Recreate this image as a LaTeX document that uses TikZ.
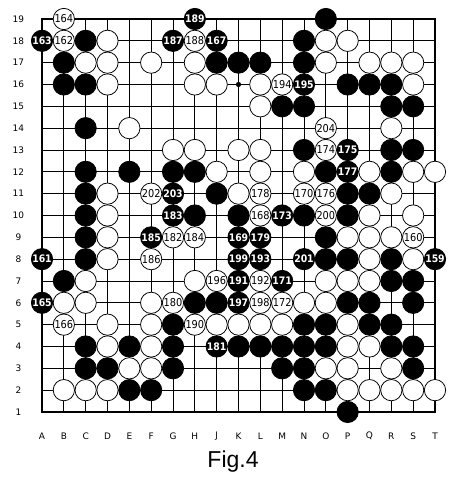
\documentclass[tikz,border=0pt]{standalone}
\usepackage{fontspec}
\setmainfont{DejaVu Sans}
\newfontfamily\numfont{DejaVu Sans Condensed}
\newfontfamily\figfont{Liberation Sans}

\tikzset{
  bstone/.style={circle, draw=black, fill=black, text=white, minimum size=0.585cm, inner sep=0pt,
    font=\numfont\bfseries\fontsize{8.1}{9}\selectfont},
  wstone/.style={circle, draw=black, fill=white, text=black, minimum size=0.585cm, inner sep=0pt,
    font=\numfont\fontsize{8.5}{9}\selectfont},
  boardlab/.style={font=\fontsize{7}{8}\selectfont, inner sep=0pt}
}

\begin{document}
\begin{tikzpicture}[x=0.6cm, y=0.6cm, line width=0.6pt]
	\def\bmin{1}   % first line
	\def\bmax{19}  % last line

\useasboundingbox (-0.924,-1.978) rectangle (19.598,19.870);

% grid
\foreach \i in {\bmin,...,\bmax}{
  \draw (\i,\bmin) -- (\i,\bmax);
  \draw (\bmin,\i) -- (\bmax,\i);
}
\draw[line width=1.1pt] (\bmin,\bmin) rectangle (\bmax,\bmax);

% star points
\foreach \c/\r in {4/4,4/10,4/16,10/4,10/10,10/16,16/4,16/10,16/16}
  \fill (\c,\r) circle (0.12);

% coordinates
\foreach \r in {1,...,19}
  \node[boardlab] (row\r) at (-0.08,\r) {\r};
\foreach \l [count=\c] in {A,B,C,D,E,F,G,H,J,K,L,M,N,O,P,Q,R,S,T}
  \node[boardlab] (col\l) at (\c,-0.10) {\l};

% black stones
\foreach \c/\r in {14/19, 3/18,13/18,
  2/17,9/17,10/17,11/17,13/17,
  2/16,3/16,15/16,16/16,17/16,
  12/15,13/15,17/15,18/15,
  3/14,
  13/13,17/13,18/13,
  3/12,5/12,7/12,8/12,14/12,17/12,
  3/11,9/11,15/11,16/11,
  3/10,8/10,10/10,13/10,15/10,
  3/9,14/9,
  3/8,14/8,15/8,17/8,
  2/7,17/7,18/7,
  8/6,9/6,15/6,16/6,18/6,
  7/5,13/5,14/5,16/5,17/5,
  3/4,5/4,7/4,10/4,11/4,12/4,13/4,14/4,17/4,18/4,
  3/3,4/3,7/3,12/3,13/3,18/3,
  5/2,6/2,13/2,14/2,
  15/1}
  \node[bstone] (b\c-\r) at (\c,\r) {};

% white stones
\foreach \c/\r in {4/18,14/18,15/18,
  3/17,4/17,6/17,8/17,14/17,16/17,17/17,18/17,
  4/16,8/16,9/16,11/16,18/16,
  11/15,
  5/14,17/14,
  7/13,8/13,10/13,11/13,
  9/12,11/12,13/12,16/12,18/12,19/12,
  4/11,10/11,17/11,
  4/10,16/10,18/10,
  4/9,15/9,16/9,17/9,
  4/8,16/8,18/8,
  3/7,8/7,14/7,15/7,16/7,
  2/6,3/6,6/6,13/6,14/6,
  4/5,6/5,9/5,10/5,11/5,12/5,15/5,
  4/4,6/4,15/4,16/4,
  5/3,6/3,14/3,15/3,17/3,
  2/2,3/2,4/2,15/2,16/2,17/2,18/2,19/2}
  \node[wstone] (w\c-\r) at (\c,\r) {};

% numbered moves (black)
\foreach \c/\r/\n in {19/8/159,1/8/161,1/18/163,1/6/165,9/18/167,10/9/169,
  12/7/171,12/10/173,15/13/175,15/12/177,11/9/179,9/4/181,7/10/183,
  6/9/185,7/18/187,8/19/189,10/7/191,11/8/193,13/16/195,10/6/197,
  10/8/199,13/8/201,7/11/203}
  \node[bstone] (m\n) at (\c,\r) {\n};

% numbered moves (white)
\foreach \c/\r/\n in {18/9/160,2/18/162,2/19/164,2/5/166,11/10/168,13/11/170,
  12/6/172,14/13/174,14/11/176,11/11/178,7/6/180,7/9/182,8/9/184,
  6/8/186,8/18/188,8/5/190,11/7/192,12/16/194,9/7/196,11/6/198,
  14/10/200,6/11/202,14/14/204}
  \node[wstone] (m\n) at (\c,\r) {\n};

\node[font=\figfont\fontsize{18}{20}\selectfont, inner sep=0pt] (caption) at (9.75,-1.29) {Fig.4};

\end{tikzpicture}
\end{document}
